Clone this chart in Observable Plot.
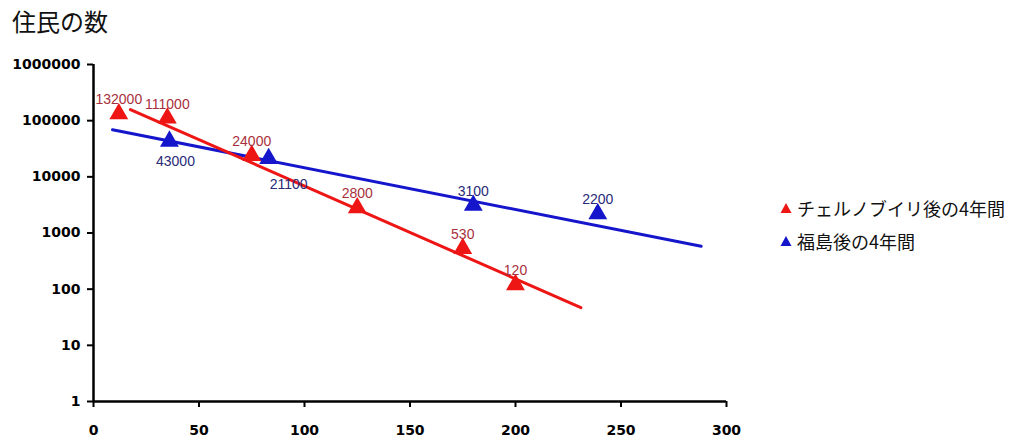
<!DOCTYPE html>
<html>
<head>
<meta charset="utf-8">
<script src="https://cdn.jsdelivr.net/npm/d3@7"></script>
<script src="https://cdn.jsdelivr.net/npm/@observablehq/plot@0.6"></script>
<style>
  body { margin: 0; background: #fff; width: 1014px; height: 443px; overflow: hidden; position: relative; }
  #title { position: absolute; left: 12px; top: 3px; font-family: "Noto Sans CJK JP", sans-serif; font-size: 24px; color: #111; }
  #chart { position: absolute; left: 0; top: 45px; }
  #legend { position: absolute; left: 780px; top: 191px; font-family: "Noto Sans CJK JP", sans-serif; font-size: 18px; color: #111; }
  #legend .row { display: flex; align-items: center; height: 33px; }
  #legend svg { margin-right: 5px; }
</style>
</head>
<body>
<div id="title">住民の数</div>
<div id="chart"></div>
<div id="legend"></div>
<script>
// Data
const seriesNames = ["チェルノブイリ後の4年間", "福島後の4年間"];
const seriesColors = ["#ee1515", "#1515cc"];
const labelColors = ["#a8303c", "#2a2a78"];

const chernobylX = [12, 35, 75, 125, 175, 200];
const chernobylY = [132000, 111000, 24000, 2800, 530, 120];

const fukushimaX = [36, 83, 180, 239];
const fukushimaY = [43000, 21100, 3100, 2200];

// Trend line end points (as drawn in the reference)
const chernobylTrendX = [17.5, 231];
const chernobylTrendY = [158000, 47];
const fukushimaTrendX = [9, 288];
const fukushimaTrendY = [69000, 580];

const xTicks = [0, 50, 100, 150, 200, 250, 300];
const yTicks = [1, 10, 100, 1000, 10000, 100000, 1000000];

const chern = chernobylX.map((x, i) => ({x, y: chernobylY[i], i}));
const fuku = fukushimaX.map((x, i) => ({x, y: fukushimaY[i], i}));
const chernTrend = chernobylTrendX.map((x, i) => ({x, y: chernobylTrendY[i]}));
const fukuTrend = fukushimaTrendX.map((x, i) => ({x, y: fukushimaTrendY[i]}));

const labelFont = "Liberation Sans, Arial, sans-serif";
const lbl = { fontFamily: labelFont, fontSize: 14, fontWeight: "normal" };

const plot = Plot.plot({
  width: 1014,
  height: 398,
  marginLeft: 93,
  marginRight: 288,
  marginTop: 19,
  marginBottom: 42,
  style: { background: "transparent", overflow: "visible", fontSize: "14px", fontWeight: "bold",
           fontFamily: "DejaVu Sans, sans-serif", color: "#000" },
  x: { domain: [0, 300] },
  y: { type: "log", domain: [1, 1000000] },
  marks: [
    Plot.axisY({ ticks: yTicks, tickFormat: d => String(d), tickSize: 6, tickPadding: 7, strokeWidth: 2, label: null }),
    Plot.axisX({ ticks: xTicks, tickFormat: d => String(d), tickSize: 6, tickPadding: 18, strokeWidth: 2, label: null }),
    Plot.ruleX([0], { stroke: "#000", strokeWidth: 2.5 }),
    Plot.ruleY([1], { stroke: "#000", strokeWidth: 2.5 }),
    Plot.line(fukuTrend, { x: "x", y: "y", stroke: seriesColors[1], strokeWidth: 3 }),
    Plot.line(chernTrend, { x: "x", y: "y", stroke: seriesColors[0], strokeWidth: 3 }),
    Plot.dot(chern, { x: "x", y: "y", symbol: "triangle", r: 7, fill: seriesColors[0], stroke: null }),
    Plot.dot(fuku, { x: "x", y: "y", symbol: "triangle", r: 7, fill: seriesColors[1], stroke: null }),
    Plot.text(chern, { x: "x", y: "y", text: d => String(d.y), dy: -14, fill: labelColors[0], ...lbl }),
    Plot.text(fuku.filter(d => d.i === 0), { x: "x", y: "y", text: d => String(d.y), dx: 6, dy: 20, fill: labelColors[1], ...lbl }),
    Plot.text(fuku.filter(d => d.i === 1), { x: "x", y: "y", text: d => String(d.y), dx: 20, dy: 26, fill: labelColors[1], ...lbl }),
    Plot.text(fuku.filter(d => d.i >= 2), { x: "x", y: "y", text: d => String(d.y), dy: -14, fill: labelColors[1], ...lbl })
  ]
});
document.getElementById("chart").appendChild(plot);

const legend = document.getElementById("legend");
seriesNames.forEach((name, i) => {
  const row = document.createElement("div");
  row.className = "row";
  row.innerHTML = `<svg width="12" height="12" viewBox="0 0 12 12"><path d="M6 1 L11.5 11 L0.5 11 Z" fill="${seriesColors[i]}"/></svg><span>${name}</span>`;
  legend.appendChild(row);
});
</script>
</body>
</html>
